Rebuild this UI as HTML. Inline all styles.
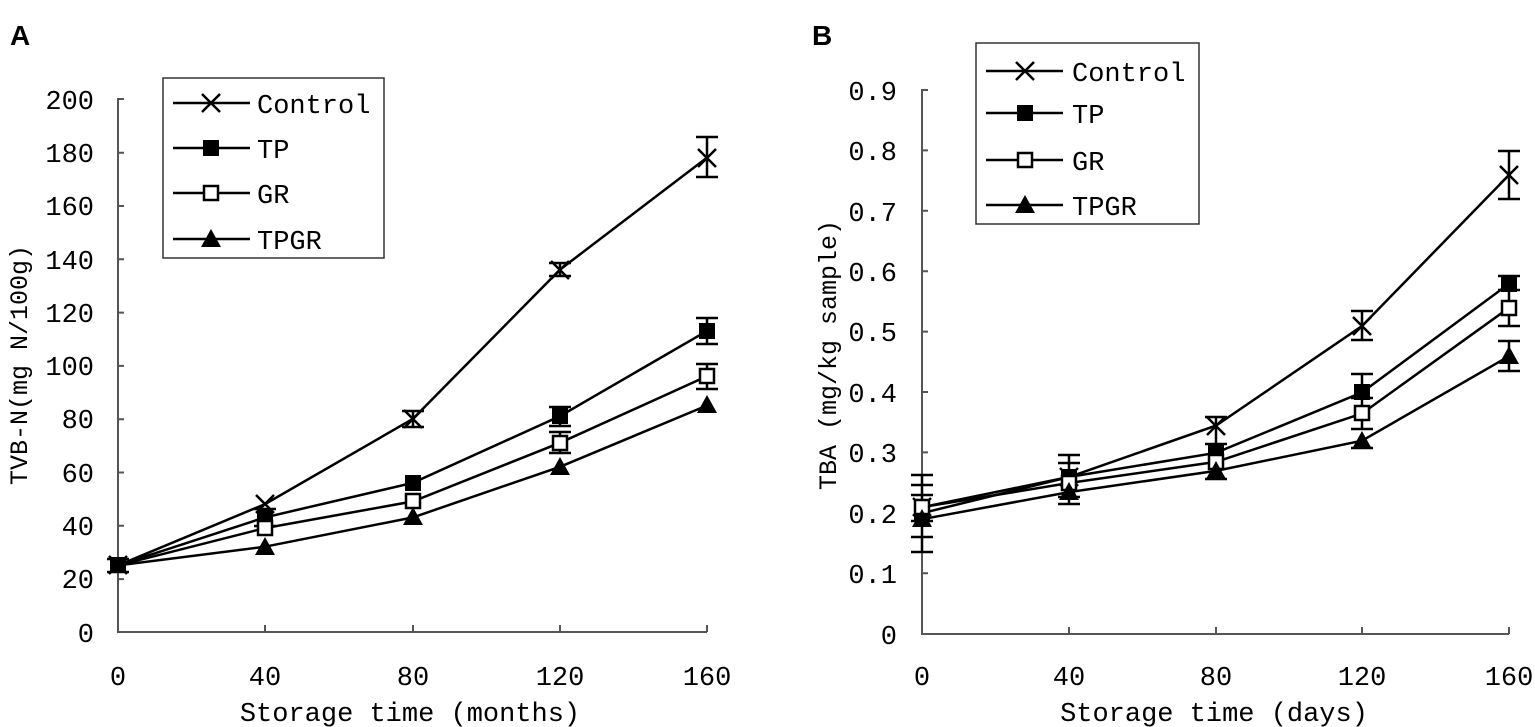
<!DOCTYPE html>
<html><head><meta charset="utf-8"><style>body{margin:0;background:#fff}svg{display:block}</style></head><body>
<svg width="1535" height="727" viewBox="0 0 1535 727" xmlns="http://www.w3.org/2000/svg" font-family="Liberation Mono, monospace" font-size="27">
<defs>
<g id="x"><path d="M-9,-9L9,9M-9,9L9,-9" stroke="#000" stroke-width="2.5"/></g>
<g id="s"><rect x="-8" y="-8" width="16" height="16" fill="#000"/></g>
<g id="o"><rect x="-7" y="-7" width="14" height="14" fill="#fff" stroke="#000" stroke-width="2.5"/></g>
<g id="t"><path d="M0,-10L10,8L-10,8Z" fill="#000"/></g>
</defs>
<text x="10" y="45" font-family="Liberation Sans, sans-serif" font-weight="bold" font-size="28">A</text>
<text x="812" y="45" font-family="Liberation Sans, sans-serif" font-weight="bold" font-size="28">B</text>

<g stroke="#555" stroke-width="2" fill="none">
<path d="M124,99H118V632H707"/>
<path d="M118,152.7h6M118,206h6M118,259.3h6M118,312.6h6M118,365.9h6M118,419.2h6M118,472.5h6M118,525.8h6M118,579.1h6"/>
<path d="M265,632v-7M413,632v-7M560,632v-7M707,632v-7"/>
</g>
<g text-anchor="end">
<text x="94" y="109">200</text><text x="94" y="162">180</text><text x="94" y="215">160</text><text x="94" y="269">140</text><text x="94" y="322">120</text><text x="94" y="375">100</text><text x="94" y="428">80</text><text x="94" y="482">60</text><text x="94" y="535">40</text><text x="94" y="588">20</text><text x="94" y="642">0</text>
</g>
<g text-anchor="middle">
<text x="118" y="685">0</text><text x="265" y="685">40</text><text x="413" y="685">80</text><text x="560" y="685">120</text><text x="707" y="685">160</text>
<text x="410" y="721">Storage time (months)</text>
</g>
<text transform="translate(27,365) rotate(-90)" text-anchor="middle" font-size="25">TVB-N(mg N/100g)</text>

<g stroke="#000" stroke-width="2.5" fill="none">
<polyline points="118,565.4 265,504.1 413,418.8 560,269.6 707,157.6"/>
<polyline points="118,565.4 265,517.4 413,482.8 560,416.1 707,330.9"/>
<polyline points="118,565.4 265,528.1 413,501.4 560,442.8 707,376.2"/>
<polyline points="118,565.4 265,546.7 413,517.4 560,466.8 707,405.5"/>
<path d="M118,559V572M107,559h22M107,572h22"/>
<path d="M413,411V427M402,411h22M402,427h22"/>
<path d="M560,263V276M549,263h22M549,276h22"/>
<path d="M707,137V177M696,137h22M696,177h22"/>
<path d="M707,318V344M696,318h22M696,344h22"/>
<path d="M707,364V389M696,364h22M696,389h22"/>
<path d="M560,407V426M549,407h22M549,426h22"/>
<path d="M265,509V526M254,509h22M254,526h22"/>
<path d="M560,432V453M549,432h22M549,453h22"/>
</g>
<use href="#x" x="118" y="565"/><use href="#x" x="265" y="504"/><use href="#x" x="413" y="419"/><use href="#x" x="560" y="270"/><use href="#x" x="707" y="158"/>
<use href="#s" x="118" y="565"/><use href="#s" x="265" y="517"/><use href="#s" x="413" y="483"/><use href="#s" x="560" y="416"/><use href="#s" x="707" y="331"/>
<use href="#o" x="265" y="528"/><use href="#o" x="413" y="501"/><use href="#o" x="560" y="443"/><use href="#o" x="707" y="376"/>
<use href="#t" x="265" y="547"/><use href="#t" x="413" y="517"/><use href="#t" x="560" y="467"/><use href="#t" x="707" y="405"/>

<rect x="163" y="78" width="221" height="180" fill="#fff" stroke="#333" stroke-width="1.5"/>
<g stroke="#000" stroke-width="2.5"><path d="M173,103H250M173,148H250M173,193H250M173,239H250"/></g>
<use href="#x" x="211" y="103"/><use href="#s" x="211" y="148"/><use href="#o" x="211" y="193"/><use href="#t" x="211" y="239"/>
<text x="257" y="113">Control</text><text x="257" y="158">TP</text><text x="257" y="203">GR</text><text x="257" y="249">TPGR</text>

<g stroke="#555" stroke-width="2" fill="none">
<path d="M928,90H922V634H1509"/>
<path d="M922,150.4h6M922,210.8h6M922,271.2h6M922,331.6h6M922,392h6M922,452.4h6M922,512.8h6M922,573.2h6"/>
<path d="M1069,634v-7M1216,634v-7M1362,634v-7M1509,634v-7"/>
</g>
<g text-anchor="end">
<text x="897" y="100">0.9</text><text x="897" y="160">0.8</text><text x="897" y="221">0.7</text><text x="897" y="281">0.6</text><text x="897" y="341">0.5</text><text x="897" y="402">0.4</text><text x="897" y="462">0.3</text><text x="897" y="523">0.2</text><text x="897" y="583">0.1</text><text x="897" y="644">0</text>
</g>
<g text-anchor="middle">
<text x="922" y="685">0</text><text x="1069" y="685">40</text><text x="1216" y="685">80</text><text x="1362" y="685">120</text><text x="1509" y="685">160</text>
<text x="1214" y="721">Storage time (days)</text>
</g>
<text transform="translate(836,355) rotate(-90)" text-anchor="middle" font-size="25">TBA (mg/kg sample)</text>

<g stroke="#000" stroke-width="2.5" fill="none">
<polyline points="922,507.2 1069,477 1216,425.6 1362,326 1509,175"/>
<polyline points="922,513.2 1069,477 1216,452.8 1362,392.4 1509,283.7"/>
<polyline points="922,507.2 1069,483 1216,461.9 1362,413.5 1509,307.8"/>
<polyline points="922,519.2 1069,492.1 1216,470.9 1362,440.7 1509,356.2"/>
<path d="M922,475V552M911,475h22M911,485h22M911,495h22M911,521h22M911,537h22M911,552h22"/>
<path d="M1069,455V504M1058,455h22M1058,463h22M1058,497h22M1058,504h22"/>
<path d="M1216,417V480M1205,417h22M1205,444h22M1205,479h22"/>
<path d="M1362,311V340M1351,311h22M1351,340h22"/>
<path d="M1362,374V429M1351,374h22M1351,398h22M1351,429h22M1351,448h22"/>
<path d="M1509,151V199M1498,151h22M1498,199h22"/>
<path d="M1509,276V326M1498,276h22M1498,290h22M1498,326h22"/>
<path d="M1509,341V371M1498,341h22M1498,371h22"/>
</g>
<use href="#x" x="922" y="507"/><use href="#x" x="1069" y="477"/><use href="#x" x="1216" y="426"/><use href="#x" x="1362" y="326"/><use href="#x" x="1509" y="175"/>
<use href="#s" x="922" y="513"/><use href="#s" x="1069" y="477"/><use href="#s" x="1216" y="453"/><use href="#s" x="1362" y="392"/><use href="#s" x="1509" y="284"/>
<use href="#o" x="922" y="507"/><use href="#o" x="1069" y="483"/><use href="#o" x="1216" y="462"/><use href="#o" x="1362" y="413"/><use href="#o" x="1509" y="308"/>
<use href="#t" x="922" y="519"/><use href="#t" x="1069" y="492"/><use href="#t" x="1216" y="471"/><use href="#t" x="1362" y="441"/><use href="#t" x="1509" y="356"/>

<rect x="976" y="43" width="223" height="181" fill="#fff" stroke="#333" stroke-width="1.5"/>
<g stroke="#000" stroke-width="2.5"><path d="M986,71H1063M986,113H1063M986,160H1063M986,205H1063"/></g>
<use href="#x" x="1025" y="71"/><use href="#s" x="1025" y="113"/><use href="#o" x="1025" y="160"/><use href="#t" x="1025" y="205"/>
<text x="1072" y="81">Control</text><text x="1072" y="123">TP</text><text x="1072" y="170">GR</text><text x="1072" y="215">TPGR</text>
</svg>
</body></html>
